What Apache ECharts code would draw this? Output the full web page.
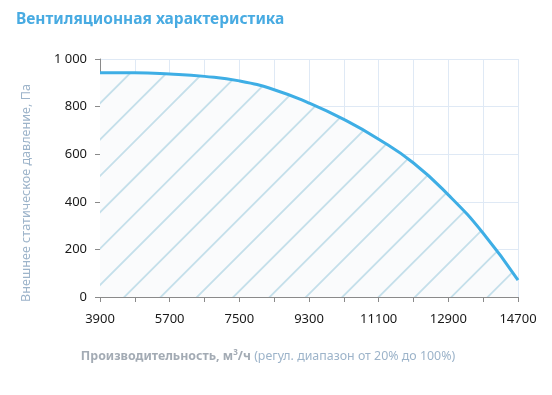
<!DOCTYPE html>
<html>
<head>
<meta charset="utf-8">
<script src="https://cdn.jsdelivr.net/npm/echarts@6/dist/echarts.min.js"></script>
<style>
html,body{margin:0;padding:0;background:#fff;}
#chart{width:552px;height:395px;}
</style>
</head>
<body>
<div id="chart"></div>
<script>
// Data
const flowValues = [3900, 4800, 5700, 6600, 7500, 8400, 9300, 10200, 11100, 12000, 12900, 13800, 14700];
const pressureValues = [942, 942, 937, 927, 908, 871, 815, 746, 663, 563, 429, 268, 71];
const xTickLabels = [3900, 5700, 7500, 9300, 11100, 12900, 14700];
const yTickLabels = [0, 200, 400, 600, 800, 1000];

const X_START = xTickLabels[0];
const X_END = xTickLabels[xTickLabels.length - 1];
const X_STEP = 900;
const FONT = '"Noto Sans", "DejaVu Sans", sans-serif';

// Hatch pattern drawn in page coordinates
function makeHatch() {
  const c = document.createElement('canvas');
  c.width = 552; c.height = 395;
  const ctx = c.getContext('2d');
  ctx.fillStyle = '#fafbfc';
  ctx.fillRect(0, 0, c.width, c.height);
  ctx.strokeStyle = '#c4dfea';
  ctx.lineWidth = 1.8;
  const step = 36.34;
  let c0 = 203.3;
  while (c0 > 0) c0 -= step;
  for (let k = c0; k < 552 + 395 + step; k += step) {
    ctx.beginPath();
    ctx.moveTo(k, 0);
    ctx.lineTo(0, k);
    ctx.stroke();
  }
  return c;
}

const chart = echarts.init(document.getElementById('chart'), null, {renderer: 'canvas'});
const seriesData = flowValues.map((x, i) => [x - X_START, pressureValues[i]]);

chart.setOption({
  animation: false,
  backgroundColor: '#ffffff',
  grid: {left: 100, right: 34, top: 59, bottom: 98, containLabel: false},
  xAxis: {
    type: 'value',
    min: 0,
    max: X_END - X_START,
    interval: X_STEP,
    axisLine: {show: true, lineStyle: {color: '#8a8a8a', width: 1}},
    axisTick: {show: true, length: 5, lineStyle: {color: '#8a8a8a'}},
    axisLabel: {
      margin: 16,
      color: '#1a1a1a',
      fontFamily: FONT,
      fontSize: 13,
      formatter: function (v) {
        const real = v + X_START;
        return xTickLabels.indexOf(real) >= 0 ? String(real) : '';
      }
    },
    splitLine: {show: true, lineStyle: {color: '#dfe9f5', width: 1}}
  },
  yAxis: {
    type: 'value',
    min: yTickLabels[0],
    max: yTickLabels[yTickLabels.length - 1],
    interval: 200,
    axisLine: {show: true, lineStyle: {color: '#8a8a8a', width: 1}},
    axisTick: {show: true, length: 5, lineStyle: {color: '#8a8a8a'}},
    axisLabel: {
      margin: 13,
      color: '#1a1a1a',
      fontFamily: FONT,
      fontSize: 13,
      formatter: function (v) {
        return v >= 1000 ? String(v).replace(/\B(?=(\d{3})+(?!\d))/g, ' ') : String(v);
      }
    },
    splitLine: {show: true, lineStyle: {color: '#dfe9f5', width: 1}}
  },
  series: [{
    type: 'line',
    data: seriesData,
    smooth: 0.5,
    symbol: 'none',
    lineStyle: {color: '#3eaee5', width: 3},
    areaStyle: {color: {image: makeHatch(), repeat: 'repeat'}, opacity: 1},
    z: 3
  }],
  graphic: [
    {
      type: 'text', left: 16, top: 12,
      style: {text: 'Вентиляционная характеристика', fill: '#48abe2', font: 'bold 15.5px ' + FONT}
    },
    {
      type: 'text', x: 26, y: 193, rotation: Math.PI / 2,
      style: {
        text: 'Внешнее статическое давление, Па', fill: '#9db4ca',
        font: '12.6px ' + FONT, align: 'center', verticalAlign: 'middle'
      }
    },
    {
      type: 'text', x: 268, y: 356,
      style: {
        text: '{b|Производительность, м}{s|3}{b|/ч} {n|(регул. диапазон от 20% до 100%)}',
        align: 'center', verticalAlign: 'middle',
        rich: {
          b: {fontFamily: FONT, fontSize: 12.4, fontWeight: 'bold', fill: '#a3abb4'},
          s: {fontFamily: FONT, fontSize: 8, fontWeight: 'bold', fill: '#a3abb4', verticalAlign: 'top', padding: [0, 0, 6, 0]},
          n: {fontFamily: FONT, fontSize: 12.4, fill: '#9db4ca'}
        }
      }
    }
  ]
});
</script>
</body>
</html>
